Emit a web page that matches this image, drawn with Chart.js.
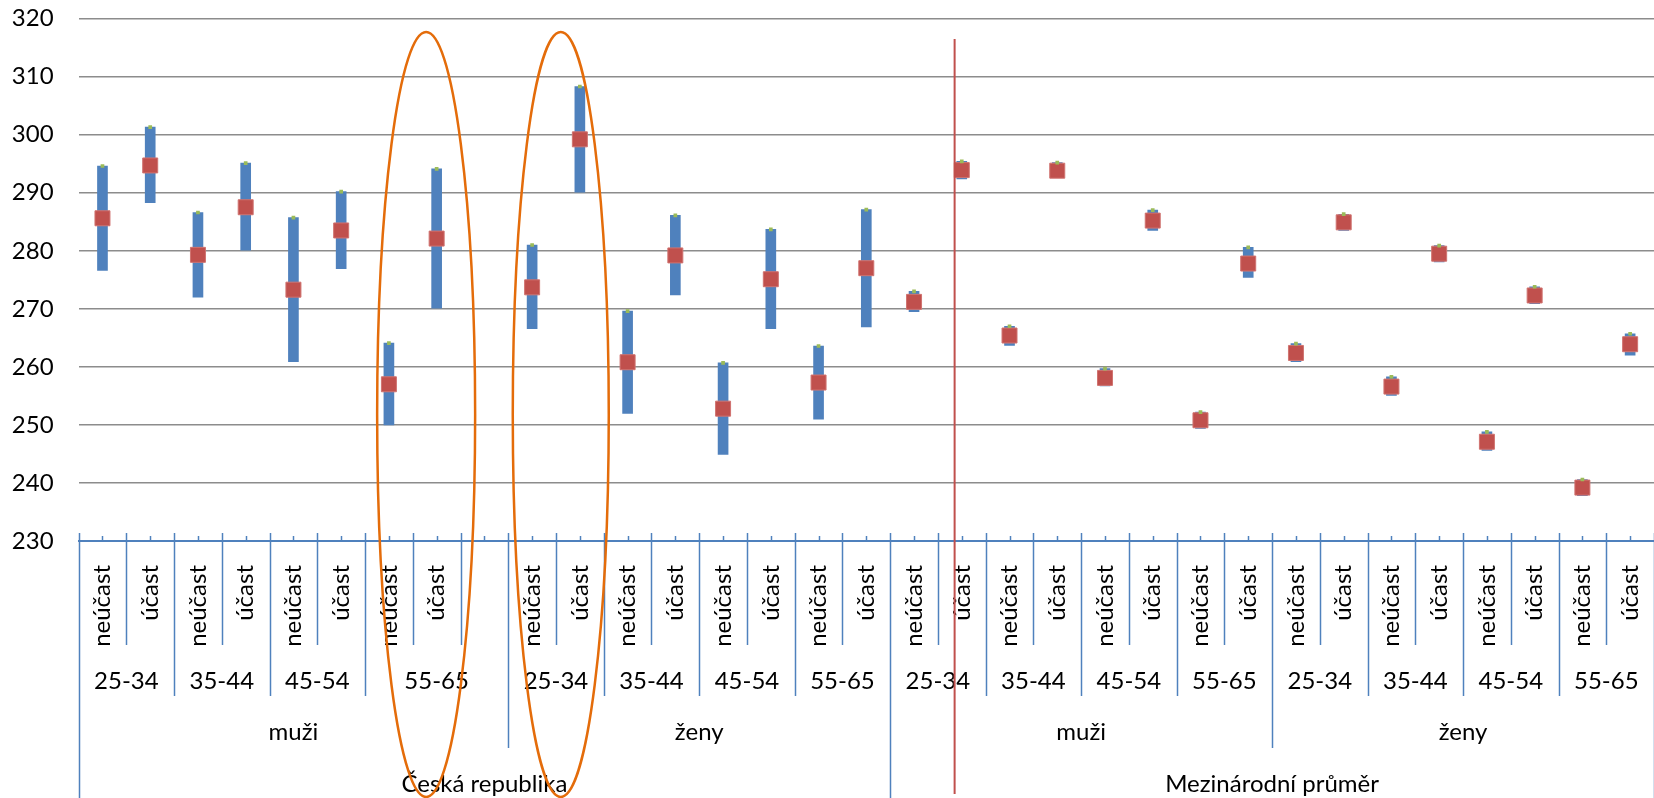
<!DOCTYPE html>
<html>
<head>
<meta charset="utf-8">
<script src="https://cdn.jsdelivr.net/npm/chart.js@4.4.1/dist/chart.umd.min.js"></script>
<style>
  html, body { margin: 0; background: #fff; overflow: hidden; }
  #wrap { width: 1654px; height: 798px; position: relative; }
  canvas { display: block; }
</style>
</head>
<body>
<div id="wrap"><canvas id="chart"></canvas></div>
<script>
// first level of the category axis (one entry per slot, slot 9 is empty)
var subLabels = ["neúčast","účast","neúčast","účast","neúčast","účast","neúčast","účast","",
  "neúčast","účast","neúčast","účast","neúčast","účast","neúčast","účast",
  "neúčast","účast","neúčast","účast","neúčast","účast","neúčast","účast",
  "neúčast","účast","neúčast","účast","neúčast","účast","neúčast","účast"];

// higher levels: label + number of slots covered
var ageLabels = ["25-34","35-44","45-54","55-65","25-34","35-44","45-54","55-65",
  "25-34","35-44","45-54","55-65","25-34","35-44","45-54","55-65"];
var ageSpans = [2,2,2,3,2,2,2,2,2,2,2,2,2,2,2,2];
var genderLabels = ["muži","ženy","muži","ženy"];
var genderSpans = [9,8,8,8];
var countryLabels = ["Česká republika","Mezinárodní průměr"];
var countrySpans = [17,16];

// values
var lowVals = [276.6,288.3,272.0,280.1,260.9,276.9,250.0,270.1,null,
  266.6,290.1,252.0,272.4,244.9,266.6,251.0,266.9,
  269.5,292.4,263.7,293.0,256.7,283.5,249.4,275.4,
  260.9,283.5,255.1,278.1,245.6,270.9,237.8,262.0];
var highVals = [294.6,301.3,286.6,295.1,285.7,290.2,264.1,294.1,null,
  281.0,308.3,269.6,286.1,260.7,283.7,263.6,287.1,
  273.0,295.4,267.0,295.2,259.7,287.0,252.2,280.6,
  264.0,286.3,258.3,280.9,248.8,273.8,240.6,265.7];
var meanVals = [285.6,294.7,279.3,287.5,273.3,283.5,257.0,282.1,null,
  273.7,299.2,260.8,279.2,252.8,275.1,257.3,277.0,
  271.2,293.9,265.4,293.8,258.1,285.2,250.8,277.8,
  262.4,284.9,256.6,279.5,247.1,272.3,239.2,263.9];

var FONT = "Lato";
var AXIS_BLUE = "#4F81BD";

var rangeData = lowVals.map(function (v, i) { return v == null ? null : [v, highVals[i]]; });

// multi-level category axis, vertical marker line and ellipses
var decor = {
  id: "decor",
  afterDraw: function (chart) {
    var ctx = chart.ctx, xs = chart.scales.x;
    var n = subLabels.length;
    var y0 = xs.top;
    function px(i) { return xs.getPixelForValue(i); }
    function edge(b) {
      if (b <= 0) return xs.left;
      if (b >= n) return xs.right;
      return (px(b - 1) + px(b)) / 2;
    }
    function cum(spans) {
      var out = [0], s = 0;
      spans.forEach(function (v) { s += v; out.push(s); });
      return out;
    }
    var ageB = cum(ageSpans), genB = cum(genderSpans), cB = cum(countrySpans);

    ctx.save();
    ctx.strokeStyle = AXIS_BLUE;
    ctx.lineWidth = 1.5;
    for (var b = 0; b <= n; b++) {
      var x = Math.round(edge(b)) + 0.5;
      var bottom = 645;
      if (cB.indexOf(b) >= 0) bottom = 798;
      else if (genB.indexOf(b) >= 0) bottom = 748;
      else if (ageB.indexOf(b) >= 0) bottom = 696;
      ctx.beginPath();
      ctx.moveTo(x, y0 - 8);
      ctx.lineTo(x, bottom);
      ctx.stroke();
    }
    for (var i = 0; i < n; i++) {
      var xm = Math.round(px(i)) + 0.5;
      ctx.beginPath();
      ctx.moveTo(xm, y0 - 5);
      ctx.lineTo(xm, y0);
      ctx.stroke();
    }

    ctx.fillStyle = "#000";
    ctx.font = "24px " + FONT;
    ctx.textAlign = "center";
    ctx.textBaseline = "alphabetic";
    function row(labels, bounds, baseY) {
      labels.forEach(function (t, k) {
        var cx = (edge(bounds[k]) + edge(bounds[k + 1])) / 2;
        ctx.fillText(t, cx, baseY);
      });
    }
    row(ageLabels, ageB, 689);
    row(genderLabels, genB, 740);
    row(countryLabels, cB, 792);

    // red separator line
    var xr = px(17) + 0.85 * (px(18) - px(17));
    ctx.strokeStyle = "#C0504D";
    ctx.lineWidth = 2;
    ctx.beginPath();
    ctx.moveTo(xr, 39);
    ctx.lineTo(xr, 794);
    ctx.stroke();

    // orange ellipses
    ctx.strokeStyle = "#E46C0A";
    ctx.lineWidth = 2.5;
    [[6.78, 49], [9.6, 48]].forEach(function (e) {
      var pos = e[0], k = Math.floor(pos);
      var cx = px(k) + (pos - k) * (px(k + 1) - px(k));
      ctx.beginPath();
      ctx.ellipse(cx, 414.5, e[1], 382.5, 0, 0, Math.PI * 2);
      ctx.stroke();
    });
    ctx.restore();
  }
};

new Chart(document.getElementById("chart").getContext("2d"), {
  type: "bar",
  data: {
    labels: subLabels,
    datasets: [
      {
        type: "bar",
        data: rangeData,
        backgroundColor: AXIS_BLUE,
        barThickness: 10,
        order: 3
      },
      {
        type: "line",
        data: meanVals,
        showLine: false,
        pointStyle: "rect",
        pointRadius: 10.6,
        pointBackgroundColor: "#C0504D",
        pointBorderColor: "#D07370",
        pointBorderWidth: 1,
        order: 2
      },
      {
        type: "line",
        data: highVals,
        showLine: false,
        pointStyle: "rect",
        pointRadius: 2.6,
        pointBackgroundColor: "#9BBB59",
        pointBorderColor: "#9BBB59",
        pointBorderWidth: 0,
        order: 1
      }
    ]
  },
  options: {
    responsive: true,
    maintainAspectRatio: false,
    animation: false,
    layout: { autoPadding: false, padding: { top: 18.6, right: -2, bottom: 0, left: 0 } },
    plugins: { legend: { display: false }, tooltip: { enabled: false } },
    scales: {
      x: {
        grid: { display: false, drawTicks: false },
        border: { display: true, color: AXIS_BLUE, width: 2 },
        ticks: {
          autoSkip: false,
          minRotation: 90,
          maxRotation: 90,
          padding: 24,
          color: "#000",
          font: { family: FONT, size: 24 }
        },
        afterFit: function (scale) {
          scale.height = 257;
          scale.paddingLeft = 0;
          scale.paddingRight = 0;
        }
      },
      y: {
        min: 230,
        max: 320,
        grid: {
          drawTicks: false,
          color: function (c) { return c.tick && c.tick.value === 230 ? "rgba(0,0,0,0)" : "#8C8C8C"; },
          lineWidth: 1.6
        },
        border: { display: false },
        ticks: {
          stepSize: 10,
          padding: 25,
          color: "#000",
          font: { family: FONT, size: 24 }
        },
        afterFit: function (scale) {
          scale.width = 78.6;
          scale.paddingTop = 0;
          scale.paddingBottom = 0;
        }
      }
    }
  },
  plugins: [decor]
});
</script>
</body>
</html>
